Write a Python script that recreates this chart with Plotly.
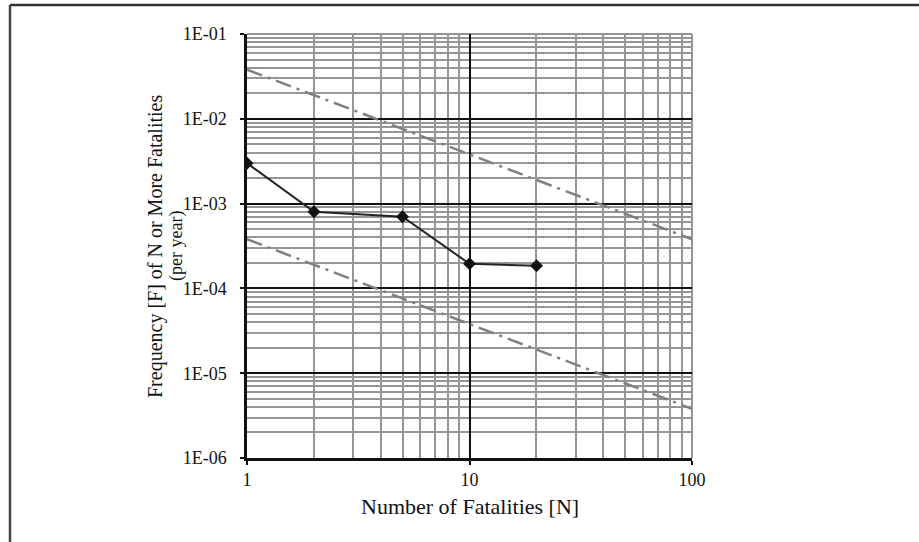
import plotly.graph_objects as go

# ---- data ----
N_points = [1, 2, 5, 10, 20]
F_points = [3.0e-3, 8.0e-4, 7.0e-4, 1.95e-4, 1.85e-4]

crit_N = [1, 100]
upper_F = [3.8e-2, 3.8e-4]
lower_F = [3.8e-4, 3.8e-6]

x_ticks = [1, 10, 100]
x_ticktext = ["1", "10", "100"]
y_ticks = [1e-6, 1e-5, 1e-4, 1e-3, 1e-2, 1e-1]
y_ticktext = ["1E-06", "1E-05", "1E-04", "1E-03", "1E-02", "1E-01"]

x_minor = [m * 10 ** e for e in range(0, 2) for m in range(2, 10)]
y_minor = [m * 10.0 ** e for e in range(-6, -1) for m in range(2, 10)]

FONT = "Liberation Serif"
GRID_MINOR = "#969696"

fig = go.Figure()

for yy in (upper_F, lower_F):
    fig.add_trace(go.Scatter(
        x=crit_N, y=yy, mode="lines",
        line=dict(color="#808080", width=2.5, dash="16px,6px,3px,6px"),
        showlegend=False, hoverinfo="skip"))

fig.add_trace(go.Scatter(
    x=N_points, y=F_points, mode="lines+markers",
    line=dict(color="#222222", width=2),
    marker=dict(symbol="diamond", size=10, color="#111111"),
    showlegend=False))

fig.update_xaxes(
    type="log", range=[0, 2],
    tickvals=x_ticks, ticktext=x_ticktext,
    showgrid=True, gridcolor="#111111", gridwidth=2,
    showline=True, linecolor="#111111", linewidth=2.5,
    ticks="outside", ticklen=4, tickwidth=2, tickcolor="#111111",
    minor=dict(tickvals=x_minor, showgrid=True, gridcolor=GRID_MINOR,
               gridwidth=2, ticks=""),
    tickfont=dict(family=FONT, size=18, color="#111111"),
    zeroline=False)

fig.update_yaxes(
    type="log", range=[-6, -1],
    tickvals=y_ticks, ticktext=y_ticktext,
    showgrid=True, gridcolor="#111111", gridwidth=2,
    showline=True, linecolor="#111111", linewidth=2.5,
    ticks="outside", ticklen=4, tickwidth=2, tickcolor="#111111",
    ticklabelstandoff=10,
    minor=dict(tickvals=y_minor, showgrid=True, gridcolor=GRID_MINOR,
               gridwidth=2, ticks=""),
    tickfont=dict(family=FONT, size=18, color="#111111"),
    zeroline=False)

L, R, T, B = 247, 227, 34, 84
W, H = 919, 542
pw, ph = W - L - R, H - T - B


def px(x):
    return (x - L) / pw


def py(y):
    return (H - B - y) / ph


shapes = [
    # grey top and right borders of the grid
    dict(type="line", xref="paper", yref="paper", x0=0, x1=1, y0=1, y1=1,
         line=dict(color=GRID_MINOR, width=2), layer="between"),
    dict(type="line", xref="paper", yref="paper", x0=1, x1=1, y0=0, y1=1,
         line=dict(color=GRID_MINOR, width=2), layer="between"),
    # outer frame (left and top edges)
    dict(type="line", xref="paper", yref="paper", x0=px(10), x1=px(10),
         y0=py(5), y1=py(560), line=dict(color="#444444", width=2.5)),
    dict(type="line", xref="paper", yref="paper", x0=px(10), x1=px(940),
         y0=py(5), y1=py(5), line=dict(color="#333333", width=2.5)),
]

annotations = [
    dict(text="Number of Fatalities [N]", xref="paper", yref="paper",
         x=0.5, y=py(507), xanchor="center", yanchor="middle",
         showarrow=False, font=dict(family=FONT, size=22, color="#111111")),
    dict(text="Frequency [F] of N or More Fatalities",
         xref="paper", yref="paper", x=px(155), y=py(247),
         xanchor="center", yanchor="middle", textangle=-90,
         showarrow=False, font=dict(family=FONT, size=20, color="#111111")),
    dict(text="(per year)",
         xref="paper", yref="paper", x=px(176), y=py(246),
         xanchor="center", yanchor="middle", textangle=-90,
         showarrow=False, font=dict(family=FONT, size=18, color="#111111")),
]

fig.update_layout(
    width=W, height=H,
    margin=dict(l=L, r=R, t=T, b=B),
    paper_bgcolor="white", plot_bgcolor="white",
    shapes=shapes, annotations=annotations,
    showlegend=False)

fig.write_html("out.html", config={"displayModeBar": False},
               post_script="document.body.style.margin='0';")
